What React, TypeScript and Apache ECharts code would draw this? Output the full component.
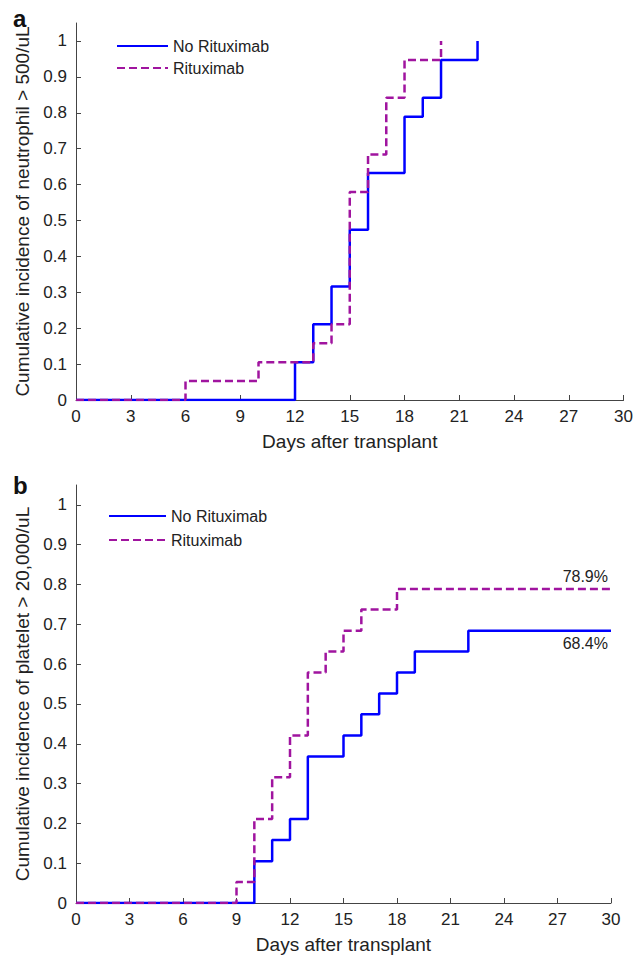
import React, { useEffect, useRef } from "react";
import * as echarts from "echarts";

// Panel a: neutrophil engraftment
const noRituxA_days = [0, 12, 13, 14, 15, 16, 18, 19, 20, 22];
const noRituxA_vals = [0, 0.105, 0.211, 0.316, 0.474, 0.632, 0.789, 0.842, 0.947, 1.0];
const rituxA_days = [0, 6, 10, 13, 14, 15, 16, 17, 18, 20];
const rituxA_vals = [0, 0.053, 0.105, 0.158, 0.211, 0.579, 0.684, 0.842, 0.947, 1.0];

// Panel b: platelet engraftment
const noRituxB_days = [0, 10, 11, 12, 13, 15, 16, 17, 18, 19, 22, 30];
const noRituxB_vals = [0, 0.105, 0.158, 0.211, 0.368, 0.421, 0.474, 0.526, 0.579, 0.632, 0.684, 0.684];
const rituxB_days = [0, 9, 10, 11, 12, 13, 14, 15, 16, 18, 30];
const rituxB_vals = [0, 0.053, 0.211, 0.316, 0.421, 0.579, 0.632, 0.684, 0.737, 0.789, 0.789];

const yTicks = [0, 0.1, 0.2, 0.3, 0.4, 0.5, 0.6, 0.7, 0.8, 0.9, 1];
const yTickLabels = ["0", "0.1", "0.2", "0.3", "0.4", "0.5", "0.6", "0.7", "0.8", "0.9", "1"];

const seriesNames = ["No Rituximab", "Rituximab"];
const finalLabelsB = ["68.4%", "78.9%"];

const BLUE = "#0000FF";
const PURPLE = "#A0149F";
const FONT = "Liberation Sans";

const zip = (xs: number[], ys: number[]) => xs.map((x, i) => [x, ys[i]]);

export default function App() {
  const ref = useRef<HTMLDivElement>(null);
  useEffect(() => {
    if (!ref.current) return;
    const chart = echarts.init(ref.current, null, { renderer: "svg" });

    const xAxisBase = (gridIndex: number) => ({
      type: "value",
      gridIndex,
      min: 0,
      max: 30,
      interval: 3,
      name: "Days after transplant",
      nameLocation: "middle",
      nameGap: 32,
      nameTextStyle: { fontFamily: FONT, fontSize: 19, color: "#222" },
      axisLine: { show: true, onZero: false, lineStyle: { color: "#444", width: 1 } },
      axisTick: { show: true, inside: true, length: 5, lineStyle: { color: "#444" } },
      axisLabel: { fontFamily: FONT, fontSize: 17, color: "#222", margin: 8 },
      splitLine: { show: false },
    });

    const yAxisBase = (gridIndex: number, name: string) => ({
      type: "value",
      gridIndex,
      min: 0,
      max: 1.05,
      name,
      nameLocation: "middle",
      nameGap: 38,
      nameTextStyle: { fontFamily: FONT, fontSize: 19, color: "#222" },
      axisLine: { show: true, onZero: false, lineStyle: { color: "#444", width: 1 } },
      axisTick: { show: true, inside: true, length: 5, customValues: yTicks, lineStyle: { color: "#444" } },
      axisLabel: {
        fontFamily: FONT,
        fontSize: 17,
        color: "#222",
        margin: 9,
        customValues: yTicks,
        formatter: (v: number) => {
          const i = yTicks.findIndex((t) => Math.abs(t - v) < 1e-6);
          return i >= 0 ? yTickLabels[i] : "";
        },
      },
      splitLine: { show: false },
    });

    const lineSeries = (
      name: string,
      xs: number[],
      ys: number[],
      idx: number,
      dashed: boolean,
      extra: any = {}
    ) => ({
      type: "line",
      name,
      xAxisIndex: idx,
      yAxisIndex: idx,
      step: "end",
      symbol: "none",
      data: zip(xs, ys),
      lineStyle: dashed
        ? { color: PURPLE, width: 2.5, type: [8, 4] }
        : { color: BLUE, width: 2.5, type: "solid" },
      itemStyle: { color: dashed ? PURPLE : BLUE },
      z: dashed ? 3 : 2,
      ...extra,
    });

    const legendBase = (left: number, top: number, itemWidth: number, itemGap: number) => ({
      orient: "vertical",
      left,
      top,
      itemWidth,
      itemHeight: 14,
      itemGap,
      data: seriesNames,
      itemStyle: { opacity: 0, borderWidth: 0 },
      textStyle: { fontFamily: FONT, fontSize: 16, color: "#222", padding: [0, 0, 0, 0] },
      selectedMode: false,
    });

    const endLabel = (text: string, value: number, above: boolean) => ({
      symbol: "circle",
      symbolSize: 0,
      silent: true,
      data: [
        {
          coord: [30, value],
          label: {
            show: true,
            formatter: text,
            position: [-3, above ? -12 : 13],
            align: "right",
            verticalAlign: "middle",
            fontFamily: FONT,
            fontSize: 16,
            color: "#222",
          },
        },
      ],
    });

    chart.setOption({
      animation: false,
      backgroundColor: "#ffffff",
      grid: [
        { left: 76, right: 12, top: 23, height: 377 },
        { left: 76, right: 25, top: 485, height: 418 },
      ],
      xAxis: [xAxisBase(0), xAxisBase(1)],
      yAxis: [
        yAxisBase(0, "Cumulative incidence of neutrophil > 500/uL"),
        yAxisBase(1, "Cumulative incidence of platelet > 20,000/uL"),
      ],
      legend: [legendBase(111, 33, 51, 6), legendBase(103, 503, 57, 8)],
      series: [
        lineSeries(seriesNames[0], noRituxA_days, noRituxA_vals, 0, false),
        lineSeries(seriesNames[1], rituxA_days, rituxA_vals, 0, true),
        lineSeries(seriesNames[0], noRituxB_days, noRituxB_vals, 1, false, {
          markPoint: endLabel(finalLabelsB[0], noRituxB_vals[noRituxB_vals.length - 1], false),
        }),
        lineSeries(seriesNames[1], rituxB_days, rituxB_vals, 1, true, {
          markPoint: endLabel(finalLabelsB[1], rituxB_vals[rituxB_vals.length - 1], true),
        }),
      ],
      graphic: [
        {
          type: "text",
          left: 13,
          top: 6,
          style: { text: "a", fontFamily: FONT, fontSize: 24, fontWeight: "bold", fill: "#111" },
        },
        {
          type: "text",
          left: 13,
          top: 473,
          style: { text: "b", fontFamily: FONT, fontSize: 24, fontWeight: "bold", fill: "#111" },
        },
      ],
    });
    return () => chart.dispose();
  }, []);

  return (
    <div
      ref={ref}
      style={{ position: "fixed", left: 0, top: 0, width: 636, height: 962, background: "#fff" }}
    />
  );
}
